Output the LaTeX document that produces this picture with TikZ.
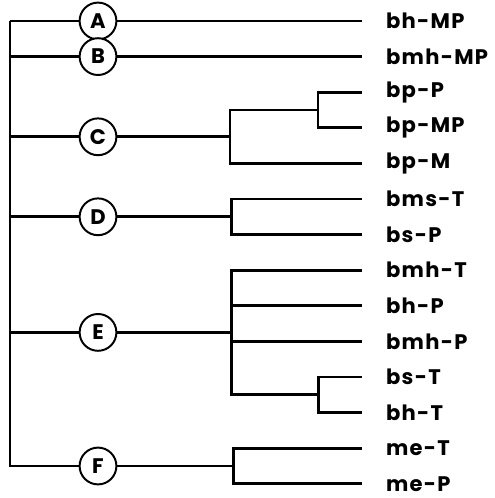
\documentclass[tikz,border=0pt]{standalone}
\usepackage{fontspec}
\newfontfamily\lblfont{Poppins}[LetterSpace=6]
\usetikzlibrary{positioning}

\begin{document}
\begin{tikzpicture}[line width=1.9pt,
                    group/.style={circle, draw, fill=white, minimum size=0.92cm, inner sep=0pt,
                                  line width=1.4pt, font=\lblfont\fontsize{15}{17}\selectfont\bfseries},
                    leaf/.style={anchor=west, inner sep=0pt, font=\lblfont\fontsize{15}{17}\selectfont\bfseries}]
    \useasboundingbox (0,0) rectangle (12.35,-12.45);

    % Define leaves
    \foreach \name/\txt [count=\i] in {bhMP/bh-MP, bmhMP/bmh-MP, bpP/bp-P, bpMP/bp-MP, bpM/bp-M,
                                       bmsT/bms-T, bsP/bs-P, bmhT/bmh-T, bhP/bh-P, bmhP/bmh-P,
                                       bsT/bs-T, bhT/bh-T, meT/me-T, meP/me-P} {
        \node[leaf] (\name) at (9.62,{-0.525-0.89*(\i-1)}) {\txt};
        \coordinate (\name-end) at (9.05,{-0.525-0.89*(\i-1)});
    }

    % Define groups
    \node[group] (A) at (2.45,-0.525) {A};
    \node[group] (B) at (2.45,-1.415) {B};
    \node[group] (C) at (2.45,-3.42) {C};
    \node[group] (D) at (2.45,-5.42) {D};
    \node[group] (E) at (2.45,-8.31) {E};
    \node[group] (F) at (2.45,-11.65) {F};

    % Define junctions
    \coordinate (root) at (0.25,-0.525);
    \coordinate (Cj) at (5.75,-3.42);   % split of C
    \coordinate (Cin) at (7.95,-2.75);  % bp-P and bp-MP
    \coordinate (Dj) at (5.78,-5.42);   % split of D
    \coordinate (Ej) at (5.78,-8.31);   % split of E
    \coordinate (Ein) at (7.97,-9.87);  % bs-T and bh-T
    \coordinate (Fj) at (5.83,-11.65);  % split of F

    % Define edges
    \foreach \g in {A,B,C,D,E,F}
        \draw (root) |- (\g);
    \draw (A) -- (bhMP-end);
    \draw (B) -- (bmhMP-end);
    \draw (C) -- (Cj);
    \draw (Cj) |- (Cin);
    \draw (Cj) |- (bpM-end);
    \draw (Cin) |- (bpP-end);
    \draw (Cin) |- (bpMP-end);
    \draw (D) -- (Dj);
    \draw (Dj) |- (bmsT-end);
    \draw (Dj) |- (bsP-end);
    \draw (E) -- (Ej);
    \draw (Ej) |- (bmhT-end);
    \draw (Ej) |- (bhP-end);
    \draw (Ej) |- (bmhP-end);
    \draw (Ej) |- (Ein);
    \draw (Ein) |- (bsT-end);
    \draw (Ein) |- (bhT-end);
    \draw (F) -- (Fj);
    \draw (Fj) |- (meT-end);
    \draw (Fj) |- (meP-end);
\end{tikzpicture}
\end{document}
